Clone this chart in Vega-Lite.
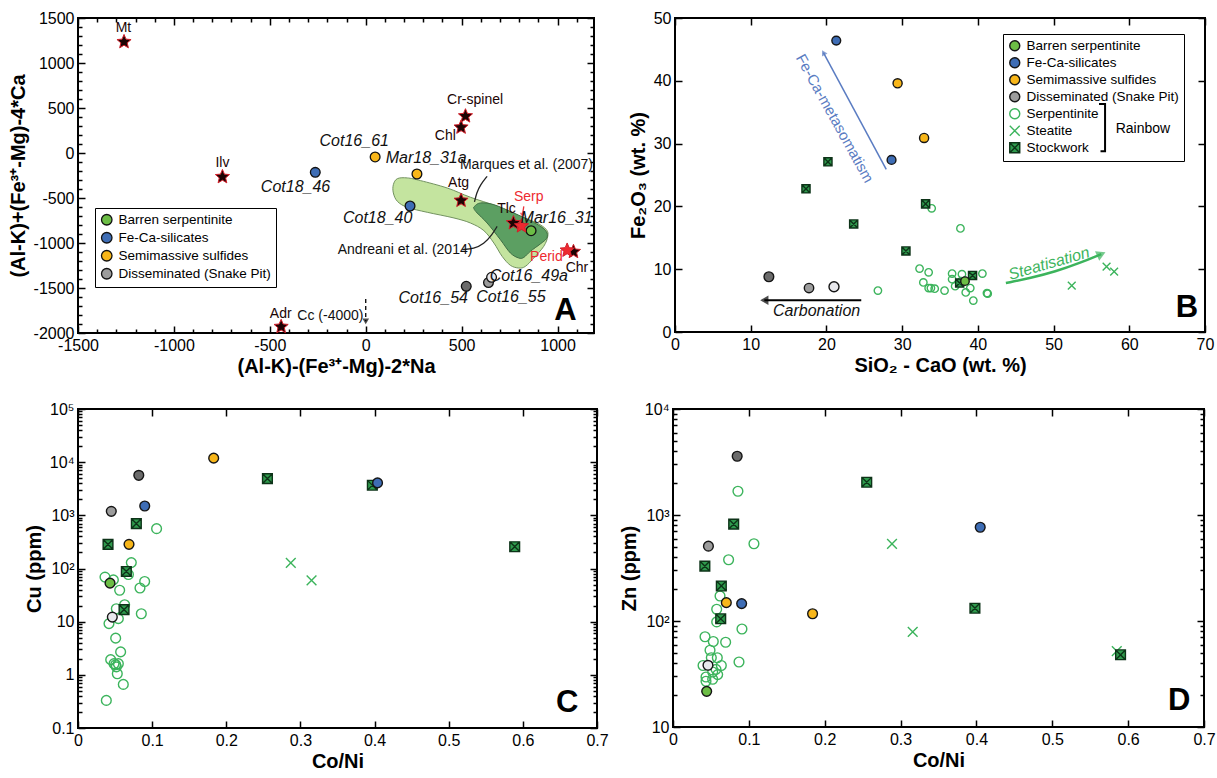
{
"$schema": "https://vega.github.io/schema/vega-lite/v6.json",
"background": "white",
"padding": {"left": 7, "top": 9, "right": 2, "bottom": 2},
"config": {
 "view": {"stroke": "black", "strokeWidth": 2},
 "axis": {"domain": false, "grid": false, "tickColor": "black", "tickWidth": 1.5, "labelFont": "Liberation Sans Narrow, Liberation Sans, sans-serif", "labelFontSize": 16, "labelColor": "black", "titleFont": "Liberation Sans, sans-serif", "titleFontSize": 20, "titleFontWeight": "bold", "titleColor": "black", "labelFlush": false, "labelOverlap": false}
},
"datasets": {
 "A_marques": [
  {"i":0,"x":144,"y":-352},{"i":1,"x":165,"y":-285},{"i":2,"x":217,"y":-277},{"i":3,"x":286,"y":-307},{"i":4,"x":425,"y":-389},{"i":5,"x":546,"y":-492},{"i":6,"x":685,"y":-592},{"i":7,"x":806,"y":-704},{"i":8,"x":893,"y":-778},{"i":9,"x":942,"y":-852},{"i":10,"x":949,"y":-926},{"i":11,"x":928,"y":-1037},{"i":12,"x":876,"y":-1167},{"i":13,"x":832,"y":-1260},{"i":14,"x":798,"y":-1278},{"i":15,"x":754,"y":-1248},{"i":16,"x":711,"y":-1148},{"i":17,"x":668,"y":-1000},{"i":18,"x":616,"y":-863},{"i":19,"x":546,"y":-778},{"i":20,"x":460,"y":-722},{"i":21,"x":321,"y":-659},{"i":22,"x":217,"y":-604},{"i":23,"x":165,"y":-537},{"i":24,"x":144,"y":-444}
 ],
 "A_andreani": [
  {"i":0,"x":567,"y":-593},{"i":1,"x":598,"y":-555},{"i":2,"x":668,"y":-574},{"i":3,"x":772,"y":-667},{"i":4,"x":858,"y":-752},{"i":5,"x":919,"y":-826},{"i":6,"x":945,"y":-889},{"i":7,"x":942,"y":-952},{"i":8,"x":910,"y":-1011},{"i":9,"x":858,"y":-1093},{"i":10,"x":824,"y":-1160},{"i":11,"x":798,"y":-1167},{"i":12,"x":754,"y":-1111},{"i":13,"x":702,"y":-963},{"i":14,"x":633,"y":-778},{"i":15,"x":581,"y":-667},{"i":16,"x":564,"y":-618}
 ],
 "A_leaders": [
  {"src":"Marques","i":0,"x":633,"y":-259},{"src":"Marques","i":1,"x":598,"y":-352},{"src":"Marques","i":2,"x":578,"y":-444},{"src":"Marques","i":3,"x":567,"y":-544},
  {"src":"Andreani","i":0,"x":503,"y":-1074},{"src":"Andreani","i":1,"x":564,"y":-1063},{"src":"Andreani","i":2,"x":616,"y":-1011},{"src":"Andreani","i":3,"x":659,"y":-907},{"src":"Andreani","i":4,"x":685,"y":-815}
 ],
 "A_arrows": [
  {"arrow":"Cc","x":0,"y":-1622,"x2":0,"y2":-1870},
  {"arrow":"Serp","x":824,"y":-592,"x2":817,"y2":-690}
 ],
 "A_pts": [
  {"sample":"Cot16_61","cls":"Semimassive sulfides","x":49,"y":-44,"lx":-60,"ly":130},
  {"sample":"Mar18_31a","cls":"Semimassive sulfides","x":267,"y":-233,"lx":315,"ly":-56},
  {"sample":"Cot18_46","cls":"Fe-Ca-silicates","x":-263,"y":-215,"lx":-366,"ly":-378},
  {"sample":"Cot18_40","cls":"Fe-Ca-silicates","x":231,"y":-589,"lx":62,"ly":-722},
  {"sample":"Mar16_31","cls":"Barren serpentinite","x":862,"y":-863,"lx":995,"ly":-722},
  {"sample":"Cot16_54","cls":"Disseminated (dark)","x":524,"y":-1481,"lx":352,"ly":-1611},
  {"sample":"Cot16_55","cls":"Disseminated (Snake Pit)","x":640,"y":-1440,"lx":757,"ly":-1604},
  {"sample":"Cot16_49a","cls":"Disseminated (light)","x":656,"y":-1381,"lx":850,"ly":-1370}
 ],
 "A_min": [
  {"mineral":"Mt","type":"mineral","x":-1260,"y":1235,"lx":-1263,"ly":1390},
  {"mineral":"Ilv","type":"mineral","x":-747,"y":-265,"lx":-747,"ly":-115},
  {"mineral":"Adr","type":"mineral","x":-441,"y":-1930,"lx":-443,"ly":-1785},
  {"mineral":"Cr-spinel","type":"mineral","x":520,"y":410,"lx":570,"ly":585},
  {"mineral":"Chl","type":"mineral","x":497,"y":285,"lx":415,"ly":193},
  {"mineral":"Atg","type":"mineral","x":497,"y":-528,"lx":484,"ly":-335},
  {"mineral":"Tlc","type":"mineral","x":770,"y":-778,"lx":734,"ly":-620},
  {"mineral":"Chr","type":"mineral","x":1083,"y":-1097,"lx":1101,"ly":-1275},
  {"mineral":"Serp","type":"rock","x":812,"y":-812,"lx":850,"ly":-490},
  {"mineral":"Perid","type":"rock","x":1050,"y":-1082,"lx":942,"ly":-1155}
 ],
 "A_notes": [
  {"note":"Marques et al. (2007)","x":838,"y":-130},
  {"note":"Andreani et al. (2014)","x":205,"y":-1074},
  {"note":"Cc (-4000)","x":-184,"y":-1815}
 ],
 "A_letter": [{"letter":"A","x":1100,"y":-1850}],
 "B_pts": [
  {"cls":"Fe-Ca-silicates","x":21.3,"y":46.4},{"cls":"Fe-Ca-silicates","x":28.6,"y":27.4},
  {"cls":"Semimassive sulfides","x":29.4,"y":39.6},{"cls":"Semimassive sulfides","x":32.9,"y":30.9},
  {"cls":"Disseminated (dark)","x":12.4,"y":8.8},{"cls":"Disseminated (Snake Pit)","x":17.7,"y":7.0},{"cls":"Disseminated (light)","x":21.0,"y":7.2},
  {"cls":"Barren serpentinite","x":38.3,"y":8.1},
  {"cls":"Stockwork","x":20.2,"y":27.1},{"cls":"Stockwork","x":17.3,"y":22.8},{"cls":"Stockwork","x":23.6,"y":17.2},{"cls":"Stockwork","x":30.5,"y":12.9},{"cls":"Stockwork","x":33.1,"y":20.4},{"cls":"Stockwork","x":37.6,"y":7.8},{"cls":"Stockwork","x":39.3,"y":9.0},
  {"cls":"Steatite","x":52.4,"y":7.4},{"cls":"Steatite","x":57.0,"y":10.4},{"cls":"Steatite","x":58.0,"y":9.6},
  {"cls":"Serpentinite","x":33.9,"y":19.7},{"cls":"Serpentinite","x":37.7,"y":16.5},{"cls":"Serpentinite","x":32.3,"y":10.1},{"cls":"Serpentinite","x":33.5,"y":9.5},{"cls":"Serpentinite","x":32.8,"y":7.9},{"cls":"Serpentinite","x":33.5,"y":7.0},{"cls":"Serpentinite","x":33.8,"y":7.0},{"cls":"Serpentinite","x":34.3,"y":6.9},{"cls":"Serpentinite","x":35.6,"y":6.6},{"cls":"Serpentinite","x":36.6,"y":9.3},{"cls":"Serpentinite","x":36.6,"y":8.4},{"cls":"Serpentinite","x":37.0,"y":7.3},{"cls":"Serpentinite","x":37.9,"y":9.2},{"cls":"Serpentinite","x":37.8,"y":8.1},{"cls":"Serpentinite","x":39.0,"y":7.0},{"cls":"Serpentinite","x":39.4,"y":5.0},{"cls":"Serpentinite","x":40.6,"y":9.3},{"cls":"Serpentinite","x":41.2,"y":6.2},{"cls":"Serpentinite","x":41.3,"y":6.1},{"cls":"Serpentinite","x":26.8,"y":6.6},{"cls":"Serpentinite","x":38.4,"y":6.3}
 ],
 "B_feca": [{"x":27.9,"y":25.9,"x2":19.6,"y2":44.5}],
 "B_carb": [{"x":24.6,"y":5.06,"x2":11.8,"y2":5.06}],
 "B_steat": [{"i":0,"x":43.7,"y":7.8},{"i":1,"x":47.0,"y":8.6},{"i":2,"x":50.2,"y":9.6},{"i":3,"x":53.5,"y":11.0},{"i":4,"x":56.3,"y":12.4}],
 "B_bracket": [{"i":0,"x":56.0,"y":36.3},{"i":1,"x":56.8,"y":36.3},{"i":2,"x":56.8,"y":28.8},{"i":3,"x":56.2,"y":28.8}],
 "B_notes": [
  {"note":"Fe-Ca-metasomatism","x":21.1,"y":34.0},
  {"note":"Carbonation","x":18.7,"y":3.4},
  {"note":"Steatisation","x":49.4,"y":10.9},
  {"note":"Rainbow","x":61.8,"y":32.4}
 ],
 "B_letter": [{"letter":"B","x":69.1,"y":2.4}],
 "C_pts": [
  {"cls":"Barren serpentinite","x":0.0432,"y":53},
  {"cls":"Fe-Ca-silicates","x":0.090,"y":1500},{"cls":"Fe-Ca-silicates","x":0.404,"y":4070},
  {"cls":"Semimassive sulfides","x":0.183,"y":11900},{"cls":"Semimassive sulfides","x":0.0688,"y":285},
  {"cls":"Disseminated (dark)","x":0.082,"y":5660},{"cls":"Disseminated (Snake Pit)","x":0.0449,"y":1190},{"cls":"Disseminated (light)","x":0.0463,"y":12.2},
  {"cls":"Stockwork","x":0.0405,"y":285},{"cls":"Stockwork","x":0.0787,"y":697},{"cls":"Stockwork","x":0.0652,"y":88},{"cls":"Stockwork","x":0.0621,"y":16.8},{"cls":"Stockwork","x":0.2555,"y":4900},{"cls":"Stockwork","x":0.397,"y":3680},{"cls":"Stockwork","x":0.589,"y":257},
  {"cls":"Steatite","x":0.287,"y":128},{"cls":"Steatite","x":0.315,"y":60},
  {"cls":"Serpentinite","x":0.106,"y":561},{"cls":"Serpentinite","x":0.0719,"y":129},{"cls":"Serpentinite","x":0.068,"y":77},{"cls":"Serpentinite","x":0.0364,"y":69},{"cls":"Serpentinite","x":0.0477,"y":61},{"cls":"Serpentinite","x":0.0899,"y":57},{"cls":"Serpentinite","x":0.0562,"y":39},{"cls":"Serpentinite","x":0.0836,"y":43},{"cls":"Serpentinite","x":0.0629,"y":20.8},{"cls":"Serpentinite","x":0.0517,"y":17.5},{"cls":"Serpentinite","x":0.0854,"y":14.1},{"cls":"Serpentinite","x":0.0418,"y":9.2},{"cls":"Serpentinite","x":0.0544,"y":11.4},{"cls":"Serpentinite","x":0.0508,"y":4.9},{"cls":"Serpentinite","x":0.0575,"y":2.7},{"cls":"Serpentinite","x":0.0441,"y":1.93},{"cls":"Serpentinite","x":0.0486,"y":1.62},{"cls":"Serpentinite","x":0.0508,"y":1.55},{"cls":"Serpentinite","x":0.0544,"y":1.62},{"cls":"Serpentinite","x":0.0517,"y":1.41},{"cls":"Serpentinite","x":0.053,"y":1.05},{"cls":"Serpentinite","x":0.0611,"y":0.66},{"cls":"Serpentinite","x":0.0382,"y":0.33}
 ],
 "C_letter": [{"letter":"C","x":0.675,"y":0.2}],
 "D_pts": [
  {"cls":"Barren serpentinite","x":0.0444,"y":21.7},
  {"cls":"Fe-Ca-silicates","x":0.0905,"y":146},{"cls":"Fe-Ca-silicates","x":0.405,"y":767},
  {"cls":"Semimassive sulfides","x":0.0703,"y":149},{"cls":"Semimassive sulfides","x":0.184,"y":117},
  {"cls":"Disseminated (dark)","x":0.0846,"y":3580},{"cls":"Disseminated (Snake Pit)","x":0.0467,"y":508},{"cls":"Disseminated (light)","x":0.0461,"y":38.2},
  {"cls":"Stockwork","x":0.2554,"y":2037},{"cls":"Stockwork","x":0.080,"y":819},{"cls":"Stockwork","x":0.042,"y":329},{"cls":"Stockwork","x":0.0637,"y":214},{"cls":"Stockwork","x":0.0629,"y":105},{"cls":"Stockwork","x":0.398,"y":132},{"cls":"Stockwork","x":0.590,"y":48},
  {"cls":"Steatite","x":0.2887,"y":535},{"cls":"Steatite","x":0.316,"y":79},{"cls":"Steatite","x":0.585,"y":52},
  {"cls":"Serpentinite","x":0.0856,"y":1675},{"cls":"Serpentinite","x":0.1067,"y":535},{"cls":"Serpentinite","x":0.0733,"y":378},{"cls":"Serpentinite","x":0.0620,"y":172},{"cls":"Serpentinite","x":0.0576,"y":129},{"cls":"Serpentinite","x":0.0576,"y":98},{"cls":"Serpentinite","x":0.0909,"y":84},{"cls":"Serpentinite","x":0.0422,"y":71},{"cls":"Serpentinite","x":0.0531,"y":64},{"cls":"Serpentinite","x":0.0694,"y":63},{"cls":"Serpentinite","x":0.0488,"y":53},{"cls":"Serpentinite","x":0.0584,"y":45},{"cls":"Serpentinite","x":0.0505,"y":45},{"cls":"Serpentinite","x":0.0396,"y":38},{"cls":"Serpentinite","x":0.0637,"y":38},{"cls":"Serpentinite","x":0.0870,"y":41},{"cls":"Serpentinite","x":0.0567,"y":35},{"cls":"Serpentinite","x":0.0523,"y":33},{"cls":"Serpentinite","x":0.0589,"y":31.2},{"cls":"Serpentinite","x":0.0435,"y":29.6},{"cls":"Serpentinite","x":0.0523,"y":28.2},{"cls":"Serpentinite","x":0.0435,"y":27}
 ],
 "D_letter": [{"letter":"D","x":0.682,"y":14.4}]
},
"resolve": {"scale": {"fill": "independent", "stroke": "independent", "shape": "independent", "size": "independent", "color": "independent"}},
"spacing": 23,
"vconcat": [
 {
  "spacing": 31,
  "resolve": {"scale": {"fill": "independent", "stroke": "independent", "shape": "independent", "size": "independent", "color": "independent"}},
  "hconcat": [
   {
    "width": 516, "height": 315,
    "resolve": {"axis": {"x": "independent", "y": "independent"}},
    "layer": [
     {
      "data": {"name": "A_marques"},
      "mark": {"type": "line", "interpolate": "cardinal-closed", "fill": "#c4e49f", "stroke": "#72925f", "strokeWidth": 1},
      "encoding": {
       "x": {"field": "x", "type": "quantitative", "scale": {"domain": [-1500, 1190], "nice": false, "zero": false}, "axis": {"orient": "bottom", "values": [-1500,-1000,-500,0,500,1000], "labelExpr": "'' + datum.value", "tickSize": -7, "labelPadding": 11, "title": "(Al-K)-(Fe³⁺-Mg)-2*Na", "titlePadding": 3}},
       "y": {"field": "y", "type": "quantitative", "scale": {"domain": [-2000, 1500], "nice": false, "zero": false}, "axis": {"orient": "left", "values": [-2000,-1500,-1000,-500,0,500,1000,1500], "labelExpr": "'' + datum.value", "tickSize": -7, "labelPadding": 11, "title": "(Al-K)+(Fe³⁺-Mg)-4*Ca", "titlePadding": 5}},
       "order": {"field": "i", "type": "quantitative"}
      }
     },
     {
      "data": {"name": "A_andreani"},
      "mark": {"type": "line", "interpolate": "cardinal-closed", "fill": "#5c9f62", "stroke": "#3f6e45", "strokeWidth": 1},
      "encoding": {
       "x": {"field": "x", "type": "quantitative", "scale": {"domain": [-1500, 1190], "nice": false, "zero": false}, "axis": {"orient": "top", "values": [-1500,-1000,-500,0,500,1000], "tickSize": -7, "labels": false, "title": null}},
       "y": {"field": "y", "type": "quantitative", "scale": {"domain": [-2000, 1500], "nice": false, "zero": false}, "axis": {"orient": "right", "values": [-2000,-1500,-1000,-500,0,500,1000,1500], "tickSize": -7, "labels": false, "title": null}},
       "order": {"field": "i", "type": "quantitative"}
      }
     },
     {
      "data": {"name": "A_leaders"},
      "mark": {"type": "line", "interpolate": "basis", "stroke": "#222222", "strokeWidth": 1.3},
      "encoding": {
       "x": {"field": "x", "type": "quantitative", "scale": {"domain": [-1500, 1190], "nice": false, "zero": false}, "axis": {"orient": "bottom", "values": [-1400,-1300,-1200,-1100,-900,-800,-700,-600,-400,-300,-200,-100,100,200,300,400,600,700,800,900,1100], "tickSize": -4, "labels": false, "title": null}},
       "y": {"field": "y", "type": "quantitative", "scale": {"domain": [-2000, 1500], "nice": false, "zero": false}, "axis": {"orient": "left", "values": [-1900,-1800,-1700,-1600,-1400,-1300,-1200,-1100,-900,-800,-700,-600,-400,-300,-200,-100,100,200,300,400,600,700,800,900,1100,1200,1300,1400], "tickSize": -4, "labels": false, "title": null}},
       "detail": {"field": "src"},
       "order": {"field": "i", "type": "quantitative"}
      }
     },
     {
      "data": {"name": "A_arrows"},
      "transform": [{"filter": "datum.arrow == 'Cc'"}],
      "mark": {"type": "rule", "stroke": "black", "strokeWidth": 1.3, "strokeDash": [4, 3]},
      "encoding": {
       "x": {"field": "x", "type": "quantitative", "scale": {"domain": [-1500, 1190], "nice": false, "zero": false}, "axis": {"orient": "top", "values": [-1400,-1300,-1200,-1100,-900,-800,-700,-600,-400,-300,-200,-100,100,200,300,400,600,700,800,900,1100], "tickSize": -4, "labels": false, "title": null}},
       "y": {"field": "y", "type": "quantitative", "scale": {"domain": [-2000, 1500], "nice": false, "zero": false}, "axis": {"orient": "right", "values": [-1900,-1800,-1700,-1600,-1400,-1300,-1200,-1100,-900,-800,-700,-600,-400,-300,-200,-100,100,200,300,400,600,700,800,900,1100,1200,1300,1400], "tickSize": -4, "labels": false, "title": null}},
       "x2": {"field": "x2"},
       "y2": {"field": "y2"}
      }
     },
     {
      "data": {"name": "A_arrows"},
      "transform": [{"filter": "datum.arrow == 'Cc'"}],
      "mark": {"type": "point", "shape": "triangle-down", "filled": true, "size": 45, "color": "black", "strokeWidth": 0},
      "encoding": {
       "x": {"field": "x2", "type": "quantitative", "scale": {"domain": [-1500, 1190], "nice": false, "zero": false}, "axis": null},
       "y": {"field": "y2", "type": "quantitative", "scale": {"domain": [-2000, 1500], "nice": false, "zero": false}, "axis": null}
      }
     },
     {
      "data": {"name": "A_arrows"},
      "transform": [{"filter": "datum.arrow == 'Serp'"}],
      "mark": {"type": "rule", "stroke": "#e8323c", "strokeWidth": 1.3},
      "encoding": {
       "x": {"field": "x", "type": "quantitative", "scale": {"domain": [-1500, 1190], "nice": false, "zero": false}, "axis": null},
       "y": {"field": "y", "type": "quantitative", "scale": {"domain": [-2000, 1500], "nice": false, "zero": false}, "axis": null},
       "x2": {"field": "x2"},
       "y2": {"field": "y2"}
      }
     },
     {
      "data": {"name": "A_arrows"},
      "transform": [{"filter": "datum.arrow == 'Serp'"}],
      "mark": {"type": "point", "shape": "triangle-down", "filled": true, "size": 30, "color": "#e8323c", "strokeWidth": 0},
      "encoding": {
       "x": {"field": "x2", "type": "quantitative", "scale": {"domain": [-1500, 1190], "nice": false, "zero": false}, "axis": null},
       "y": {"field": "y2", "type": "quantitative", "scale": {"domain": [-2000, 1500], "nice": false, "zero": false}, "axis": null}
      }
     },
     {
      "data": {"name": "A_pts"},
      "mark": {"type": "point", "shape": "circle", "filled": true, "size": 95, "stroke": "#111111", "strokeWidth": 1.3, "opacity": 1},
      "encoding": {
       "x": {"field": "x", "type": "quantitative", "scale": {"domain": [-1500, 1190], "nice": false, "zero": false}, "axis": null},
       "y": {"field": "y", "type": "quantitative", "scale": {"domain": [-2000, 1500], "nice": false, "zero": false}, "axis": null},
       "fill": {"field": "cls", "type": "nominal",
        "scale": {"domain": ["Barren serpentinite","Fe-Ca-silicates","Semimassive sulfides","Disseminated (Snake Pit)","Disseminated (dark)","Disseminated (light)"], "range": ["#6cbd45","#3e6db5","#f8b619","#9c9c9c","#6b6b6b","#e8e8ec"]},
        "legend": {"orient": "none", "legendX": 17, "legendY": 190, "title": null, "values": ["Barren serpentinite","Fe-Ca-silicates","Semimassive sulfides","Disseminated (Snake Pit)"], "strokeColor": "black", "padding": 5, "rowPadding": 1, "labelFont": "Liberation Sans", "labelFontSize": 13.5, "labelColor": "black", "labelOffset": 5, "symbolType": "circle", "symbolSize": 110, "symbolStrokeColor": "#111111", "symbolStrokeWidth": 1.3}}
      }
     },
     {
      "data": {"name": "A_min"},
      "mark": {"type": "point", "shape": "M0,-1L0.265,-0.364L0.951,-0.309L0.428,0.139L0.588,0.809L0,0.45L-0.588,0.809L-0.428,0.139L-0.951,-0.309L-0.265,-0.364Z", "filled": true, "size": 220, "stroke": "#d41f2a", "strokeWidth": 1, "opacity": 1},
      "encoding": {
       "x": {"field": "x", "type": "quantitative", "scale": {"domain": [-1500, 1190], "nice": false, "zero": false}, "axis": null},
       "y": {"field": "y", "type": "quantitative", "scale": {"domain": [-2000, 1500], "nice": false, "zero": false}, "axis": null},
       "color": {"field": "type", "type": "nominal", "scale": {"domain": ["mineral","rock"], "range": ["#1c0404","#ee2a30"]}, "legend": null}
      }
     },
     {
      "data": {"name": "A_min"},
      "mark": {"type": "text", "font": "Liberation Sans Narrow, Liberation Sans, sans-serif", "fontSize": 14, "align": "center", "baseline": "middle"},
      "encoding": {
       "x": {"field": "lx", "type": "quantitative", "scale": {"domain": [-1500, 1190], "nice": false, "zero": false}, "axis": null},
       "y": {"field": "ly", "type": "quantitative", "scale": {"domain": [-2000, 1500], "nice": false, "zero": false}, "axis": null},
       "text": {"field": "mineral"},
       "color": {"field": "type", "type": "nominal", "scale": {"domain": ["mineral","rock"], "range": ["#1c0404","#ee2a30"]}, "legend": null}
      }
     },
     {
      "data": {"name": "A_pts"},
      "mark": {"type": "text", "font": "Liberation Sans Narrow, Liberation Sans, sans-serif", "fontSize": 16, "fontStyle": "italic", "align": "center", "baseline": "middle", "color": "#111111"},
      "encoding": {
       "x": {"field": "lx", "type": "quantitative", "scale": {"domain": [-1500, 1190], "nice": false, "zero": false}, "axis": null},
       "y": {"field": "ly", "type": "quantitative", "scale": {"domain": [-2000, 1500], "nice": false, "zero": false}, "axis": null},
       "text": {"field": "sample"}
      }
     },
     {
      "data": {"name": "A_notes"},
      "mark": {"type": "text", "font": "Liberation Sans Narrow, Liberation Sans, sans-serif", "fontSize": 14, "align": "center", "baseline": "middle", "color": "#111111"},
      "encoding": {
       "x": {"field": "x", "type": "quantitative", "scale": {"domain": [-1500, 1190], "nice": false, "zero": false}, "axis": null},
       "y": {"field": "y", "type": "quantitative", "scale": {"domain": [-2000, 1500], "nice": false, "zero": false}, "axis": null},
       "text": {"field": "note"}
      }
     },
     {
      "data": {"name": "A_letter"},
      "mark": {"type": "text", "font": "Liberation Sans, sans-serif", "fontSize": 31, "fontWeight": "bold", "align": "right", "baseline": "alphabetic", "color": "black"},
      "encoding": {
       "x": {"field": "x", "type": "quantitative", "scale": {"domain": [-1500, 1190], "nice": false, "zero": false}, "axis": null},
       "y": {"field": "y", "type": "quantitative", "scale": {"domain": [-2000, 1500], "nice": false, "zero": false}, "axis": null},
       "text": {"field": "letter"}
      }
     }
    ]
   },
   {
    "width": 530, "height": 314,
    "resolve": {"axis": {"x": "independent", "y": "independent"}},
    "layer": [
     {
      "data": {"name": "B_pts"},
      "transform": [{"filter": "datum.cls == 'Serpentinite' || datum.cls == 'Steatite'"}],
      "mark": {"type": "point", "filled": true, "strokeWidth": 1.4, "opacity": 1},
      "encoding": {
       "x": {"field": "x", "type": "quantitative", "scale": {"domain": [0, 70], "nice": false}, "axis": {"orient": "bottom", "values": [0,10,20,30,40,50,60,70], "tickSize": -7, "labelPadding": 11, "title": "SiO₂ - CaO (wt. %)", "titlePadding": 3}},
       "y": {"field": "y", "type": "quantitative", "scale": {"domain": [0, 50], "nice": false}, "axis": {"orient": "left", "values": [0,10,20,30,40,50], "tickSize": -7, "labelPadding": 11, "title": "Fe₂O₃ (wt. %)", "titlePadding": 5}},
       "fill": {"field": "cls", "type": "nominal", "scale": {"domain": ["Barren serpentinite","Fe-Ca-silicates","Semimassive sulfides","Disseminated (Snake Pit)","Serpentinite","Steatite","Stockwork","Disseminated (dark)","Disseminated (light)"], "range": ["#6cbd45","#3e6db5","#f8b619","#9c9c9c","transparent","transparent","#2f9b4d","#6b6b6b","#e8e8ec"]},
        "legend": {"orient": "none", "legendX": 328, "legendY": 16, "title": null, "values": ["Barren serpentinite","Fe-Ca-silicates","Semimassive sulfides","Disseminated (Snake Pit)","Serpentinite","Steatite","Stockwork"], "strokeColor": "black", "padding": 5, "rowPadding": 0, "labelFont": "Liberation Sans", "labelFontSize": 13.5, "labelColor": "black", "labelOffset": 5, "symbolSize": 100, "symbolStrokeWidth": 1.4}},
       "stroke": {"field": "cls", "type": "nominal", "scale": {"domain": ["Barren serpentinite","Fe-Ca-silicates","Semimassive sulfides","Disseminated (Snake Pit)","Serpentinite","Steatite","Stockwork","Disseminated (dark)","Disseminated (light)"], "range": ["#151515","#151515","#151515","#151515","#3cb45c","#3cb45c","#0d3318","#151515","#151515"]},
        "legend": {"orient": "none", "legendX": 328, "legendY": 16, "title": null, "values": ["Barren serpentinite","Fe-Ca-silicates","Semimassive sulfides","Disseminated (Snake Pit)","Serpentinite","Steatite","Stockwork"], "strokeColor": "black", "padding": 5, "rowPadding": 0, "labelFont": "Liberation Sans", "labelFontSize": 13.5, "labelColor": "black", "labelOffset": 5, "symbolSize": 100, "symbolStrokeWidth": 1.4}},
       "shape": {"field": "cls", "type": "nominal", "scale": {"domain": ["Barren serpentinite","Fe-Ca-silicates","Semimassive sulfides","Disseminated (Snake Pit)","Serpentinite","Steatite","Stockwork","Disseminated (dark)","Disseminated (light)"], "range": ["circle","circle","circle","circle","circle","M-1,-1L1,1M-1,1L1,-1","M-1,-1H1V1H-1ZM-1,-1L1,1M-1,1L1,-1","circle","circle"]},
        "legend": {"orient": "none", "legendX": 328, "legendY": 16, "title": null, "values": ["Barren serpentinite","Fe-Ca-silicates","Semimassive sulfides","Disseminated (Snake Pit)","Serpentinite","Steatite","Stockwork"], "strokeColor": "black", "padding": 5, "rowPadding": 0, "labelFont": "Liberation Sans", "labelFontSize": 13.5, "labelColor": "black", "labelOffset": 5, "symbolSize": 100, "symbolStrokeWidth": 1.4}},
       "size": {"field": "cls", "type": "nominal", "scale": {"domain": ["Serpentinite","Steatite","Stockwork","Barren serpentinite","Fe-Ca-silicates","Semimassive sulfides","Disseminated (Snake Pit)","Disseminated (dark)","Disseminated (light)"], "range": [55,100,80,110,110,110,110,110,110]}, "legend": null}
      }
     },
     {
      "data": {"name": "B_pts"},
      "transform": [{"filter": "datum.cls == 'Stockwork'"}],
      "mark": {"type": "point", "filled": true, "strokeWidth": 1.4, "opacity": 1},
      "encoding": {
       "x": {"field": "x", "type": "quantitative", "scale": {"domain": [0, 70], "nice": false}, "axis": {"orient": "top", "values": [0,10,20,30,40,50,60,70], "tickSize": -7, "labels": false, "title": null}},
       "y": {"field": "y", "type": "quantitative", "scale": {"domain": [0, 50], "nice": false}, "axis": {"orient": "right", "values": [0,10,20,30,40,50], "tickSize": -7, "labels": false, "title": null}},
       "fill": {"field": "cls", "type": "nominal"},
       "stroke": {"field": "cls", "type": "nominal"},
       "shape": {"field": "cls", "type": "nominal"},
       "size": {"field": "cls", "type": "nominal", "legend": null}
      }
     },
     {
      "data": {"name": "B_pts"},
      "transform": [{"filter": "datum.cls != 'Stockwork' && datum.cls != 'Serpentinite' && datum.cls != 'Steatite'"}],
      "mark": {"type": "point", "filled": true, "strokeWidth": 1.4, "opacity": 1},
      "encoding": {
       "x": {"field": "x", "type": "quantitative", "scale": {"domain": [0, 70], "nice": false}, "axis": null},
       "y": {"field": "y", "type": "quantitative", "scale": {"domain": [0, 50], "nice": false}, "axis": null},
       "fill": {"field": "cls", "type": "nominal"},
       "stroke": {"field": "cls", "type": "nominal"},
       "shape": {"field": "cls", "type": "nominal"},
       "size": {"field": "cls", "type": "nominal", "legend": null}
      }
     },
     {
      "data": {"name": "B_feca"},
      "mark": {"type": "rule", "stroke": "#5a7cc2", "strokeWidth": 1.5},
      "encoding": {
       "x": {"field": "x", "type": "quantitative", "scale": {"domain": [0, 70], "nice": false}, "axis": null},
       "y": {"field": "y", "type": "quantitative", "scale": {"domain": [0, 50], "nice": false}, "axis": null},
       "x2": {"field": "x2"}, "y2": {"field": "y2"}
      }
     },
     {
      "data": {"name": "B_feca"},
      "mark": {"type": "point", "shape": "triangle-up", "filled": true, "size": 40, "angle": 331, "color": "#5a7cc2", "strokeWidth": 0},
      "encoding": {
       "x": {"field": "x2", "type": "quantitative", "scale": {"domain": [0, 70], "nice": false}, "axis": null},
       "y": {"field": "y2", "type": "quantitative", "scale": {"domain": [0, 50], "nice": false}, "axis": null}
      }
     },
     {
      "data": {"name": "B_carb"},
      "mark": {"type": "rule", "stroke": "black", "strokeWidth": 2},
      "encoding": {
       "x": {"field": "x", "type": "quantitative", "scale": {"domain": [0, 70], "nice": false}, "axis": null},
       "y": {"field": "y", "type": "quantitative", "scale": {"domain": [0, 50], "nice": false}, "axis": null},
       "x2": {"field": "x2"}, "y2": {"field": "y2"}
      }
     },
     {
      "data": {"name": "B_carb"},
      "mark": {"type": "point", "shape": "triangle-left", "filled": true, "size": 90, "color": "black", "strokeWidth": 0},
      "encoding": {
       "x": {"field": "x2", "type": "quantitative", "scale": {"domain": [0, 70], "nice": false}, "axis": null},
       "y": {"field": "y2", "type": "quantitative", "scale": {"domain": [0, 50], "nice": false}, "axis": null}
      }
     },
     {
      "data": {"name": "B_steat"},
      "mark": {"type": "line", "interpolate": "basis", "stroke": "#3cb45c", "strokeWidth": 2.5},
      "encoding": {
       "x": {"field": "x", "type": "quantitative", "scale": {"domain": [0, 70], "nice": false}, "axis": null},
       "y": {"field": "y", "type": "quantitative", "scale": {"domain": [0, 50], "nice": false}, "axis": null},
       "order": {"field": "i", "type": "quantitative"}
      }
     },
     {
      "data": {"name": "B_steat"},
      "transform": [{"filter": "datum.i == 4"}],
      "mark": {"type": "point", "shape": "triangle-right", "filled": true, "size": 110, "angle": 336, "color": "#3cb45c", "strokeWidth": 0},
      "encoding": {
       "x": {"field": "x", "type": "quantitative", "scale": {"domain": [0, 70], "nice": false}, "axis": null},
       "y": {"field": "y", "type": "quantitative", "scale": {"domain": [0, 50], "nice": false}, "axis": null}
      }
     },
     {
      "data": {"name": "B_notes"},
      "transform": [{"filter": "datum.note == 'Fe-Ca-metasomatism'"}],
      "mark": {"type": "text", "font": "Liberation Sans Narrow, Liberation Sans, sans-serif", "fontSize": 15, "angle": 61, "align": "center", "baseline": "middle", "color": "#5a7cc2"},
      "encoding": {
       "x": {"field": "x", "type": "quantitative", "scale": {"domain": [0, 70], "nice": false}, "axis": null},
       "y": {"field": "y", "type": "quantitative", "scale": {"domain": [0, 50], "nice": false}, "axis": null},
       "text": {"field": "note"}
      }
     },
     {
      "data": {"name": "B_notes"},
      "transform": [{"filter": "datum.note == 'Carbonation'"}],
      "mark": {"type": "text", "font": "Liberation Sans Narrow, Liberation Sans, sans-serif", "fontSize": 16, "fontStyle": "italic", "align": "center", "baseline": "middle", "color": "#111111"},
      "encoding": {
       "x": {"field": "x", "type": "quantitative", "scale": {"domain": [0, 70], "nice": false}, "axis": null},
       "y": {"field": "y", "type": "quantitative", "scale": {"domain": [0, 50], "nice": false}, "axis": null},
       "text": {"field": "note"}
      }
     },
     {
      "data": {"name": "B_notes"},
      "transform": [{"filter": "datum.note == 'Steatisation'"}],
      "mark": {"type": "text", "font": "Liberation Sans Narrow, Liberation Sans, sans-serif", "fontSize": 16, "fontStyle": "italic", "angle": 344, "align": "center", "baseline": "middle", "color": "#3cb45c"},
      "encoding": {
       "x": {"field": "x", "type": "quantitative", "scale": {"domain": [0, 70], "nice": false}, "axis": null},
       "y": {"field": "y", "type": "quantitative", "scale": {"domain": [0, 50], "nice": false}, "axis": null},
       "text": {"field": "note"}
      }
     },
     {
      "data": {"name": "B_notes"},
      "transform": [{"filter": "datum.note == 'Rainbow'"}],
      "mark": {"type": "text", "font": "Liberation Sans, sans-serif", "fontSize": 14, "align": "center", "baseline": "middle", "color": "black"},
      "encoding": {
       "x": {"field": "x", "type": "quantitative", "scale": {"domain": [0, 70], "nice": false}, "axis": null},
       "y": {"field": "y", "type": "quantitative", "scale": {"domain": [0, 50], "nice": false}, "axis": null},
       "text": {"field": "note"}
      }
     },
     {
      "data": {"name": "B_bracket"},
      "mark": {"type": "line", "stroke": "black", "strokeWidth": 2},
      "encoding": {
       "x": {"field": "x", "type": "quantitative", "scale": {"domain": [0, 70], "nice": false}, "axis": null},
       "y": {"field": "y", "type": "quantitative", "scale": {"domain": [0, 50], "nice": false}, "axis": null},
       "order": {"field": "i", "type": "quantitative"}
      }
     },
     {
      "data": {"name": "B_letter"},
      "mark": {"type": "text", "font": "Liberation Sans, sans-serif", "fontSize": 31, "fontWeight": "bold", "align": "right", "baseline": "alphabetic", "color": "black"},
      "encoding": {
       "x": {"field": "x", "type": "quantitative", "scale": {"domain": [0, 70], "nice": false}, "axis": null},
       "y": {"field": "y", "type": "quantitative", "scale": {"domain": [0, 50], "nice": false}, "axis": null},
       "text": {"field": "letter"}
      }
     }
    ]
   }
  ]
 },
 {
  "spacing": 8,
  "resolve": {"scale": {"fill": "independent", "stroke": "independent", "shape": "independent", "size": "independent", "color": "independent"}},
  "hconcat": [
   {
    "width": 519, "height": 319,
    "resolve": {"axis": {"x": "independent", "y": "independent"}},
    "layer": [
     {
      "data": {"name": "C_pts"},
      "transform": [{"filter": "datum.cls == 'Serpentinite' || datum.cls == 'Steatite'"}],
      "mark": {"type": "point", "filled": true, "strokeWidth": 1.4, "opacity": 1},
      "encoding": {
       "x": {"field": "x", "type": "quantitative", "scale": {"domain": [0, 0.7], "nice": false}, "axis": {"orient": "bottom", "values": [0,0.1,0.2,0.3,0.4,0.5,0.6,0.7], "format": "~g", "tickSize": -7, "labelPadding": 11, "title": "Co/Ni", "titlePadding": 3}},
       "y": {"field": "y", "type": "quantitative", "scale": {"type": "log", "domain": [0.1, 100000], "nice": false}, "axis": {"orient": "left", "values": [0.1,1,10,100,1000,10000,100000], "labelExpr": "datum.value < 0.5 ? '0.1' : datum.value < 5 ? '1' : datum.value < 50 ? '10' : datum.value < 500 ? '10²' : datum.value < 5000 ? '10³' : datum.value < 50000 ? '10⁴' : '10⁵'", "tickSize": -7, "labelPadding": 11, "title": "Cu (ppm)", "titlePadding": 5}},
       "fill": {"field": "cls", "type": "nominal", "scale": {"domain": ["Barren serpentinite","Fe-Ca-silicates","Semimassive sulfides","Disseminated (Snake Pit)","Serpentinite","Steatite","Stockwork","Disseminated (dark)","Disseminated (light)"], "range": ["#6cbd45","#3e6db5","#f8b619","#9c9c9c","transparent","transparent","#2f9b4d","#6b6b6b","#e8e8ec"]}, "legend": null},
       "stroke": {"field": "cls", "type": "nominal", "scale": {"domain": ["Barren serpentinite","Fe-Ca-silicates","Semimassive sulfides","Disseminated (Snake Pit)","Serpentinite","Steatite","Stockwork","Disseminated (dark)","Disseminated (light)"], "range": ["#151515","#151515","#151515","#151515","#3cb45c","#3cb45c","#0d3318","#151515","#151515"]}, "legend": null},
       "shape": {"field": "cls", "type": "nominal", "scale": {"domain": ["Barren serpentinite","Fe-Ca-silicates","Semimassive sulfides","Disseminated (Snake Pit)","Serpentinite","Steatite","Stockwork","Disseminated (dark)","Disseminated (light)"], "range": ["circle","circle","circle","circle","circle","M-1,-1L1,1M-1,1L1,-1","M-1,-1H1V1H-1ZM-1,-1L1,1M-1,1L1,-1","circle","circle"]}, "legend": null},
       "size": {"field": "cls", "type": "nominal", "scale": {"domain": ["Barren serpentinite","Fe-Ca-silicates","Semimassive sulfides","Disseminated (Snake Pit)","Serpentinite","Steatite","Stockwork","Disseminated (dark)","Disseminated (light)"], "range": [95,95,95,95,50,95,75,95,95]}, "legend": null}
      }
     },
     {
      "data": {"name": "C_pts"},
      "transform": [{"filter": "datum.cls == 'Stockwork'"}],
      "mark": {"type": "point", "filled": true, "strokeWidth": 1.4, "opacity": 1},
      "encoding": {
       "x": {"field": "x", "type": "quantitative", "scale": {"domain": [0, 0.7], "nice": false}, "axis": {"orient": "top", "values": [0,0.1,0.2,0.3,0.4,0.5,0.6,0.7], "tickSize": -7, "labels": false, "title": null}},
       "y": {"field": "y", "type": "quantitative", "scale": {"type": "log", "domain": [0.1, 100000], "nice": false}, "axis": {"orient": "right", "values": [0.1,1,10,100,1000,10000,100000], "tickSize": -7, "labels": false, "title": null}},
       "fill": {"field": "cls", "type": "nominal", "legend": null},
       "stroke": {"field": "cls", "type": "nominal", "legend": null},
       "shape": {"field": "cls", "type": "nominal", "legend": null},
       "size": {"field": "cls", "type": "nominal", "legend": null}
      }
     },
     {
      "data": {"name": "C_pts"},
      "transform": [{"filter": "datum.cls != 'Stockwork' && datum.cls != 'Serpentinite' && datum.cls != 'Steatite'"}],
      "mark": {"type": "point", "filled": true, "strokeWidth": 1.4, "opacity": 1},
      "encoding": {
       "x": {"field": "x", "type": "quantitative", "scale": {"domain": [0, 0.7], "nice": false}, "axis": null},
       "y": {"field": "y", "type": "quantitative", "scale": {"type": "log", "domain": [0.1, 100000], "nice": false}, "axis": {"orient": "left", "values": [0.2,0.3,0.4,0.5,0.6,0.7,0.8,0.9,2,3,4,5,6,7,8,9,20,30,40,50,60,70,80,90,200,300,400,500,600,700,800,900,2000,3000,4000,5000,6000,7000,8000,9000,20000,30000,40000,50000,60000,70000,80000,90000], "tickSize": -4, "labels": false, "title": null}},
       "fill": {"field": "cls", "type": "nominal", "legend": null},
       "stroke": {"field": "cls", "type": "nominal", "legend": null},
       "shape": {"field": "cls", "type": "nominal", "legend": null},
       "size": {"field": "cls", "type": "nominal", "legend": null}
      }
     },
     {
      "data": {"name": "C_letter"},
      "mark": {"type": "text", "font": "Liberation Sans, sans-serif", "fontSize": 31, "fontWeight": "bold", "align": "right", "baseline": "alphabetic", "color": "black"},
      "encoding": {
       "x": {"field": "x", "type": "quantitative", "scale": {"domain": [0, 0.7], "nice": false}, "axis": null},
       "y": {"field": "y", "type": "quantitative", "scale": {"type": "log", "domain": [0.1, 100000], "nice": false}, "axis": {"orient": "right", "values": [0.2,0.3,0.4,0.5,0.6,0.7,0.8,0.9,2,3,4,5,6,7,8,9,20,30,40,50,60,70,80,90,200,300,400,500,600,700,800,900,2000,3000,4000,5000,6000,7000,8000,9000,20000,30000,40000,50000,60000,70000,80000,90000], "tickSize": -4, "labels": false, "title": null}},
       "text": {"field": "letter"}
      }
     }
    ]
   },
   {
    "width": 531, "height": 318,
    "resolve": {"axis": {"x": "independent", "y": "independent"}},
    "layer": [
     {
      "data": {"name": "D_pts"},
      "transform": [{"filter": "datum.cls == 'Serpentinite' || datum.cls == 'Steatite'"}],
      "mark": {"type": "point", "filled": true, "strokeWidth": 1.4, "opacity": 1},
      "encoding": {
       "x": {"field": "x", "type": "quantitative", "scale": {"domain": [0, 0.7], "nice": false}, "axis": {"orient": "bottom", "values": [0,0.1,0.2,0.3,0.4,0.5,0.6,0.7], "format": "~g", "tickSize": -7, "labelPadding": 11, "title": "Co/Ni", "titlePadding": 3}},
       "y": {"field": "y", "type": "quantitative", "scale": {"type": "log", "domain": [10, 10000], "nice": false}, "axis": {"orient": "left", "values": [10,100,1000,10000], "labelExpr": "datum.value < 50 ? '10' : datum.value < 500 ? '10²' : datum.value < 5000 ? '10³' : '10⁴'", "tickSize": -7, "labelPadding": 11, "title": "Zn (ppm)", "titlePadding": 5}},
       "fill": {"field": "cls", "type": "nominal", "scale": {"domain": ["Barren serpentinite","Fe-Ca-silicates","Semimassive sulfides","Disseminated (Snake Pit)","Serpentinite","Steatite","Stockwork","Disseminated (dark)","Disseminated (light)"], "range": ["#6cbd45","#3e6db5","#f8b619","#9c9c9c","transparent","transparent","#2f9b4d","#6b6b6b","#e8e8ec"]}, "legend": null},
       "stroke": {"field": "cls", "type": "nominal", "scale": {"domain": ["Barren serpentinite","Fe-Ca-silicates","Semimassive sulfides","Disseminated (Snake Pit)","Serpentinite","Steatite","Stockwork","Disseminated (dark)","Disseminated (light)"], "range": ["#151515","#151515","#151515","#151515","#3cb45c","#3cb45c","#0d3318","#151515","#151515"]}, "legend": null},
       "shape": {"field": "cls", "type": "nominal", "scale": {"domain": ["Barren serpentinite","Fe-Ca-silicates","Semimassive sulfides","Disseminated (Snake Pit)","Serpentinite","Steatite","Stockwork","Disseminated (dark)","Disseminated (light)"], "range": ["circle","circle","circle","circle","circle","M-1,-1L1,1M-1,1L1,-1","M-1,-1H1V1H-1ZM-1,-1L1,1M-1,1L1,-1","circle","circle"]}, "legend": null},
       "size": {"field": "cls", "type": "nominal", "scale": {"domain": ["Barren serpentinite","Fe-Ca-silicates","Semimassive sulfides","Disseminated (Snake Pit)","Serpentinite","Steatite","Stockwork","Disseminated (dark)","Disseminated (light)"], "range": [95,95,95,95,50,95,75,95,95]}, "legend": null}
      }
     },
     {
      "data": {"name": "D_pts"},
      "transform": [{"filter": "datum.cls == 'Stockwork'"}],
      "mark": {"type": "point", "filled": true, "strokeWidth": 1.4, "opacity": 1},
      "encoding": {
       "x": {"field": "x", "type": "quantitative", "scale": {"domain": [0, 0.7], "nice": false}, "axis": {"orient": "top", "values": [0,0.1,0.2,0.3,0.4,0.5,0.6,0.7], "tickSize": -7, "labels": false, "title": null}},
       "y": {"field": "y", "type": "quantitative", "scale": {"type": "log", "domain": [10, 10000], "nice": false}, "axis": {"orient": "right", "values": [10,100,1000,10000], "tickSize": -7, "labels": false, "title": null}},
       "fill": {"field": "cls", "type": "nominal", "legend": null},
       "stroke": {"field": "cls", "type": "nominal", "legend": null},
       "shape": {"field": "cls", "type": "nominal", "legend": null},
       "size": {"field": "cls", "type": "nominal", "legend": null}
      }
     },
     {
      "data": {"name": "D_pts"},
      "transform": [{"filter": "datum.cls != 'Stockwork' && datum.cls != 'Serpentinite' && datum.cls != 'Steatite'"}],
      "mark": {"type": "point", "filled": true, "strokeWidth": 1.4, "opacity": 1},
      "encoding": {
       "x": {"field": "x", "type": "quantitative", "scale": {"domain": [0, 0.7], "nice": false}, "axis": null},
       "y": {"field": "y", "type": "quantitative", "scale": {"type": "log", "domain": [10, 10000], "nice": false}, "axis": {"orient": "left", "values": [20,30,40,50,60,70,80,90,200,300,400,500,600,700,800,900,2000,3000,4000,5000,6000,7000,8000,9000], "tickSize": -4, "labels": false, "title": null}},
       "fill": {"field": "cls", "type": "nominal", "legend": null},
       "stroke": {"field": "cls", "type": "nominal", "legend": null},
       "shape": {"field": "cls", "type": "nominal", "legend": null},
       "size": {"field": "cls", "type": "nominal", "legend": null}
      }
     },
     {
      "data": {"name": "D_letter"},
      "mark": {"type": "text", "font": "Liberation Sans, sans-serif", "fontSize": 31, "fontWeight": "bold", "align": "right", "baseline": "alphabetic", "color": "black"},
      "encoding": {
       "x": {"field": "x", "type": "quantitative", "scale": {"domain": [0, 0.7], "nice": false}, "axis": null},
       "y": {"field": "y", "type": "quantitative", "scale": {"type": "log", "domain": [10, 10000], "nice": false}, "axis": {"orient": "right", "values": [20,30,40,50,60,70,80,90,200,300,400,500,600,700,800,900,2000,3000,4000,5000,6000,7000,8000,9000], "tickSize": -4, "labels": false, "title": null}},
       "text": {"field": "letter"}
      }
     }
    ]
   }
  ]
 }
]
}
